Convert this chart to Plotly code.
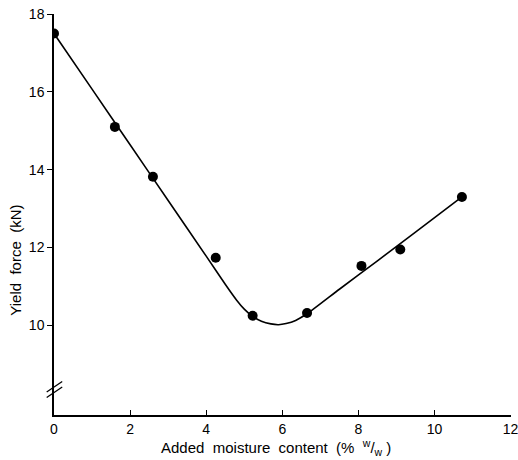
import plotly.graph_objects as go

# measured data points
moisture = [0.0, 1.6, 2.6, 4.25, 5.22, 6.65, 8.08, 9.1, 10.72]
yield_force = [17.5, 15.1, 13.82, 11.74, 10.25, 10.32, 11.53, 11.95, 13.3]

# fitted curve
fit_x = [0.0, 1.0, 2.0, 3.0, 4.0, 4.5, 4.8, 5.0, 5.2, 5.45, 5.7, 5.9, 6.1, 6.35, 6.65, 7.5, 8.5, 9.5, 10.72]
fit_y = [17.5, 16.07, 14.64, 13.21, 11.78, 11.06, 10.65, 10.42, 10.25, 10.11, 10.04, 10.02, 10.05, 10.13, 10.3, 10.93, 11.66, 12.4, 13.3]

x_ticks = [0, 2, 4, 6, 8, 10, 12]
y_ticks = [10, 12, 14, 16, 18]

FAMILY = "Liberation Sans, Arial, sans-serif"

fig = go.Figure()
fig.add_trace(go.Scatter(x=fit_x, y=fit_y, mode="lines",
                         line=dict(color="black", width=1.6, shape="spline", smoothing=0.6),
                         showlegend=False, hoverinfo="skip"))
fig.add_trace(go.Scatter(x=moisture, y=yield_force, mode="markers",
                         marker=dict(color="black", size=10),
                         showlegend=False))

fig.update_layout(
    width=518, height=460,
    margin=dict(l=54, r=7, t=14, b=45),
    plot_bgcolor="white", paper_bgcolor="white",
    font=dict(family=FAMILY, size=14, color="black"),
    xaxis=dict(range=[0, 12.01], tickvals=x_ticks,
               ticks="inside", ticklen=5, ticklabeloverflow="allow", automargin=False,
               tickcolor="black", showline=True, linecolor="black", linewidth=1.5,
               showgrid=False, zeroline=False),
    yaxis=dict(range=[7.7, 18], tickvals=y_ticks, ticks="outside", ticklen=5,
               automargin=False,
               tickcolor="black", showline=True, linecolor="black", linewidth=1.5,
               showgrid=False, zeroline=False),
)

fig.add_annotation(text="Added  moisture  content  (%  <sup>w</sup>/<sub>w</sub> )",
                   xref="paper", yref="paper", x=0.485, y=-0.081,
                   xanchor="center", yanchor="middle", showarrow=False,
                   font=dict(family=FAMILY, size=15, color="black"))
fig.add_annotation(text="Yield  force  (kN)", textangle=-90,
                   xref="paper", yref="paper", x=-0.083, y=0.385,
                   xanchor="center", yanchor="middle", showarrow=False,
                   font=dict(family=FAMILY, size=15, color="black"))

# axis break marks on the y axis
for dy in (0.0, 0.14):
    fig.add_shape(type="line", xref="paper", yref="y",
                  x0=-0.016, x1=0.018, y0=8.15 + dy, y1=8.42 + dy,
                  line=dict(color="black", width=1.3))

fig.write_html("out.html")
